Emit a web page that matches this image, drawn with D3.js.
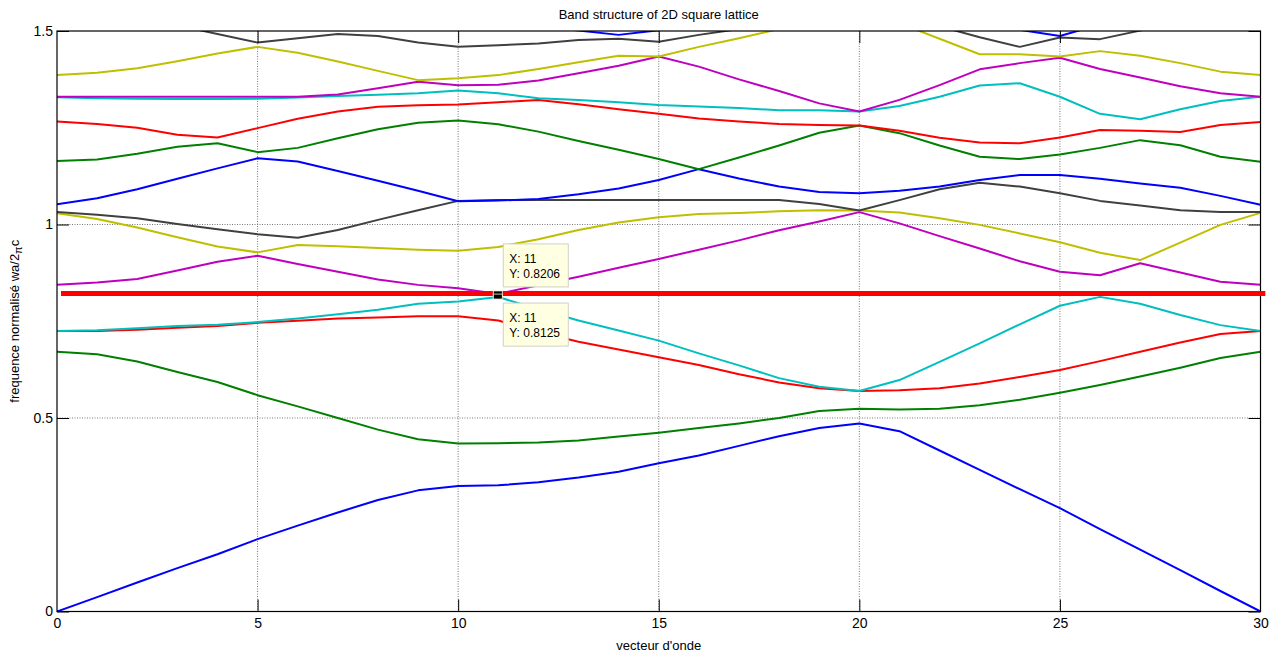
<!DOCTYPE html>
<html>
<head>
<meta charset="utf-8">
<script src="https://cdn.jsdelivr.net/npm/d3@7"></script>
<style>
  html, body { margin: 0; padding: 0; background: #fff; }
  svg { display: block; font-family: "Liberation Sans", Arial, sans-serif; }
</style>
</head>
<body>
<svg id="chart" width="1276" height="657"></svg>
<script>
// ---------- DATA ----------
const kPoints = d3.range(0, 31); // wave-vector index 0..30
const xTicks = [0, 5, 10, 15, 20, 25, 30];
const yTicks = [0, 0.5, 1, 1.5];
const yTickLabels = ["0", "0.5", "1", "1.5"];

const band01 = [0, 0.037, 0.075, 0.112, 0.148, 0.187, 0.222, 0.256, 0.288, 0.313, 0.324, 0.326, 0.334, 0.346, 0.361, 0.383, 0.403, 0.428, 0.453, 0.474, 0.486, 0.466, 0.416, 0.366, 0.316, 0.267, 0.213, 0.160, 0.107, 0.053, 0];
const band02 = [0.671, 0.665, 0.646, 0.619, 0.593, 0.559, 0.530, 0.500, 0.470, 0.445, 0.434, 0.435, 0.437, 0.442, 0.452, 0.462, 0.474, 0.486, 0.500, 0.518, 0.524, 0.522, 0.524, 0.533, 0.547, 0.565, 0.585, 0.607, 0.630, 0.655, 0.671];
const band03 = [0.725, 0.725, 0.728, 0.733, 0.738, 0.746, 0.751, 0.757, 0.760, 0.763, 0.763, 0.752, 0.722, 0.697, 0.677, 0.657, 0.637, 0.613, 0.592, 0.577, 0.570, 0.572, 0.577, 0.589, 0.606, 0.624, 0.647, 0.671, 0.695, 0.717, 0.725];
const band04 = [0.725, 0.727, 0.732, 0.738, 0.741, 0.748, 0.757, 0.768, 0.780, 0.795, 0.801, 0.8125, 0.781, 0.752, 0.726, 0.700, 0.667, 0.636, 0.603, 0.581, 0.570, 0.598, 0.645, 0.693, 0.742, 0.790, 0.813, 0.795, 0.766, 0.740, 0.725];
const band05 = [0.844, 0.850, 0.859, 0.881, 0.904, 0.919, 0.898, 0.878, 0.858, 0.844, 0.835, 0.8206, 0.843, 0.865, 0.888, 0.911, 0.935, 0.959, 0.985, 1.008, 1.032, 1.003, 0.970, 0.938, 0.905, 0.878, 0.869, 0.900, 0.876, 0.852, 0.844];
const band06 = [1.029, 1.014, 0.992, 0.967, 0.943, 0.928, 0.947, 0.944, 0.939, 0.935, 0.932, 0.942, 0.962, 0.986, 1.005, 1.019, 1.027, 1.030, 1.034, 1.037, 1.036, 1.031, 1.016, 0.999, 0.977, 0.954, 0.927, 0.908, 0.953, 0.999, 1.030];
const band07 = [1.032, 1.025, 1.016, 1.001, 0.988, 0.975, 0.966, 0.986, 1.012, 1.037, 1.061, 1.063, 1.063, 1.063, 1.063, 1.063, 1.063, 1.063, 1.063, 1.053, 1.036, 1.063, 1.091, 1.108, 1.098, 1.081, 1.061, 1.049, 1.037, 1.032, 1.032];
const band08 = [1.052, 1.068, 1.091, 1.118, 1.145, 1.171, 1.163, 1.138, 1.113, 1.087, 1.060, 1.062, 1.066, 1.078, 1.093, 1.115, 1.143, 1.119, 1.098, 1.084, 1.081, 1.087, 1.098, 1.115, 1.128, 1.128, 1.118, 1.106, 1.095, 1.074, 1.051];
const band09 = [1.164, 1.168, 1.183, 1.201, 1.210, 1.187, 1.198, 1.223, 1.246, 1.263, 1.269, 1.259, 1.240, 1.216, 1.193, 1.169, 1.143, 1.173, 1.204, 1.237, 1.256, 1.236, 1.204, 1.175, 1.169, 1.181, 1.198, 1.218, 1.205, 1.175, 1.162];
const band10 = [1.266, 1.260, 1.250, 1.232, 1.225, 1.249, 1.273, 1.292, 1.304, 1.308, 1.310, 1.316, 1.322, 1.311, 1.298, 1.286, 1.274, 1.266, 1.260, 1.257, 1.256, 1.242, 1.224, 1.212, 1.210, 1.225, 1.244, 1.242, 1.239, 1.257, 1.265];
const band11 = [1.329, 1.326, 1.325, 1.324, 1.324, 1.325, 1.328, 1.332, 1.335, 1.339, 1.346, 1.339, 1.326, 1.322, 1.316, 1.309, 1.305, 1.301, 1.295, 1.295, 1.292, 1.306, 1.330, 1.359, 1.365, 1.330, 1.286, 1.272, 1.298, 1.319, 1.330];
const band12 = [1.330, 1.330, 1.330, 1.330, 1.330, 1.330, 1.330, 1.336, 1.352, 1.369, 1.360, 1.361, 1.372, 1.391, 1.410, 1.434, 1.408, 1.375, 1.345, 1.313, 1.292, 1.322, 1.360, 1.401, 1.417, 1.431, 1.402, 1.380, 1.357, 1.339, 1.330];
const band13 = [1.386, 1.392, 1.404, 1.422, 1.442, 1.459, 1.444, 1.421, 1.397, 1.373, 1.378, 1.386, 1.402, 1.419, 1.436, 1.434, 1.459, 1.481, 1.505, null, null, 1.520, 1.480, 1.440, 1.440, 1.434, 1.448, 1.436, 1.417, 1.395, 1.386];
const band14 = [null, null, null, 1.515, 1.492, 1.470, 1.481, 1.492, 1.487, 1.470, 1.459, 1.463, 1.468, 1.477, 1.480, 1.472, 1.490, 1.505, null, null, null, null, 1.512, 1.484, 1.459, 1.483, 1.479, 1.501, 1.520, null, null];
const band15 = [null, null, null, null, null, null, null, null, null, null, null, null, 1.515, 1.501, 1.490, 1.502, 1.515, null, null, null, null, null, null, 1.520, 1.503, 1.487, 1.517, null, null, null, null];

const bands = [band01, band02, band03, band04, band05, band06, band07, band08, band09, band10, band11, band12, band13, band14, band15];
const bandColors = ["#0000ff", "#008000", "#ff0000", "#00bfbf", "#bf00bf", "#bfbf00", "#404040"];

const markerLevel = 0.822;          // horizontal red line
const markerRange = [0.1, 30.12];
const datatips = [
  { x: 11, y: 0.8206, label: ["X: 11", "Y: 0.8206"], box: "above" },
  { x: 11, y: 0.8125, label: ["X: 11", "Y: 0.8125"], box: "below" }
];

// ---------- LAYOUT ----------
const svg = d3.select("#chart");
const L = 57, R = 1260.5, T = 31, B = 611.5;
const x = d3.scaleLinear().domain([0, 30]).range([L, R]);
const y = d3.scaleLinear().domain([0, 1.5]).range([B, T]);

svg.append("defs").append("clipPath").attr("id", "plotclip")
  .append("rect").attr("x", L).attr("y", T).attr("width", R - L).attr("height", B - T);

// grid
const grid = svg.append("g").attr("stroke", "#555").attr("stroke-width", 0.8).attr("stroke-dasharray", "1,1.5");
xTicks.filter(d => d > 0 && d < 30).forEach(d => {
  grid.append("line").attr("x1", x(d)).attr("x2", x(d)).attr("y1", T).attr("y2", B);
});
yTicks.filter(d => d > 0 && d < 1.5).forEach(d => {
  grid.append("line").attr("y1", y(d)).attr("y2", y(d)).attr("x1", L).attr("x2", R);
});

// bands
const line = d3.line().defined(d => d[1] != null).x(d => x(d[0])).y(d => y(d[1]));
const plot = svg.append("g").attr("clip-path", "url(#plotclip)");
bands.forEach((b, i) => {
  plot.append("path")
    .datum(kPoints.map(k => [k, b[k]]))
    .attr("fill", "none")
    .attr("stroke", bandColors[i % bandColors.length])
    .attr("stroke-width", 2)
    .attr("stroke-linejoin", "round")
    .attr("d", line);
});

// axes
const fontSize = 14;
const axB = svg.append("g").attr("transform", `translate(0,${B})`)
  .call(d3.axisBottom(x).tickValues(xTicks).tickSizeInner(-12).tickSizeOuter(0).tickPadding(7));
const axT = svg.append("g").attr("transform", `translate(0,${T})`)
  .call(d3.axisTop(x).tickValues(xTicks).tickSizeInner(-12).tickSizeOuter(0).tickFormat(""));
const axL = svg.append("g").attr("transform", `translate(${L},0)`)
  .call(d3.axisLeft(y).tickValues(yTicks).tickSizeInner(-12).tickSizeOuter(0).tickPadding(4)
    .tickFormat((d, i) => yTickLabels[i]));
const axR = svg.append("g").attr("transform", `translate(${R},0)`)
  .call(d3.axisRight(y).tickValues(yTicks).tickSizeInner(-12).tickSizeOuter(0).tickFormat(""));
[axB, axT, axL, axR].forEach(a => {
  a.select(".domain").remove();
  a.selectAll(".tick line").attr("stroke", "#000").attr("stroke-width", 1);
  a.selectAll("text").attr("font-size", fontSize).attr("fill", "#000")
    .attr("font-family", "Liberation Sans, Arial, sans-serif");
});
axB.selectAll(".tick").filter(d => d === 0 || d === 30).select("line").remove();
axT.selectAll(".tick").filter(d => d === 0 || d === 30).select("line").remove();

svg.append("rect").attr("x", L).attr("y", T).attr("width", R - L).attr("height", B - T)
  .attr("fill", "none").attr("stroke", "#000").attr("stroke-width", 1.2);

// horizontal red line
svg.append("line")
  .attr("x1", x(markerRange[0])).attr("x2", x(markerRange[1]))
  .attr("y1", y(markerLevel)).attr("y2", y(markerLevel))
  .attr("stroke", "#ff0000").attr("stroke-width", 5);

// datatips
datatips.forEach(dt => {
  const px = x(dt.x), py = y(dt.y);
  svg.append("rect").attr("x", px - 5).attr("y", py - 3).attr("width", 9).attr("height", 5)
    .attr("fill", "#000").attr("stroke", "#ffffe0").attr("stroke-width", 0.8);
  const bx = px + 5, by = dt.box === "above" ? py - 50 : py + 6;
  const g = svg.append("g");
  g.append("rect").attr("x", bx).attr("y", by).attr("width", 65).attr("height", 43)
    .attr("fill", "#ffffe1").attr("stroke", "#d0d0c8").attr("stroke-width", 1);
  dt.label.forEach((t, j) => {
    g.append("text").attr("x", bx + 6).attr("y", by + 19 + j * 15)
      .attr("font-size", 12).attr("fill", "#000").text(t);
  });
});

// titles
svg.append("text").attr("x", (L + R) / 2).attr("y", 19).attr("text-anchor", "middle")
  .attr("font-size", 13).text("Band structure of 2D square lattice");
svg.append("text").attr("x", (L + R) / 2).attr("y", 650).attr("text-anchor", "middle")
  .attr("font-size", 13).text("vecteur d'onde");
const yl = svg.append("text").attr("transform", `translate(19,${(T + B) / 2}) rotate(-90)`)
  .attr("text-anchor", "middle").attr("font-size", 13);
yl.append("tspan").text("frequence normalisé wa/2");
yl.append("tspan").attr("dy", 3).attr("font-size", 11).text("π");
yl.append("tspan").attr("dy", -3).text("c");
</script>
</body>
</html>
